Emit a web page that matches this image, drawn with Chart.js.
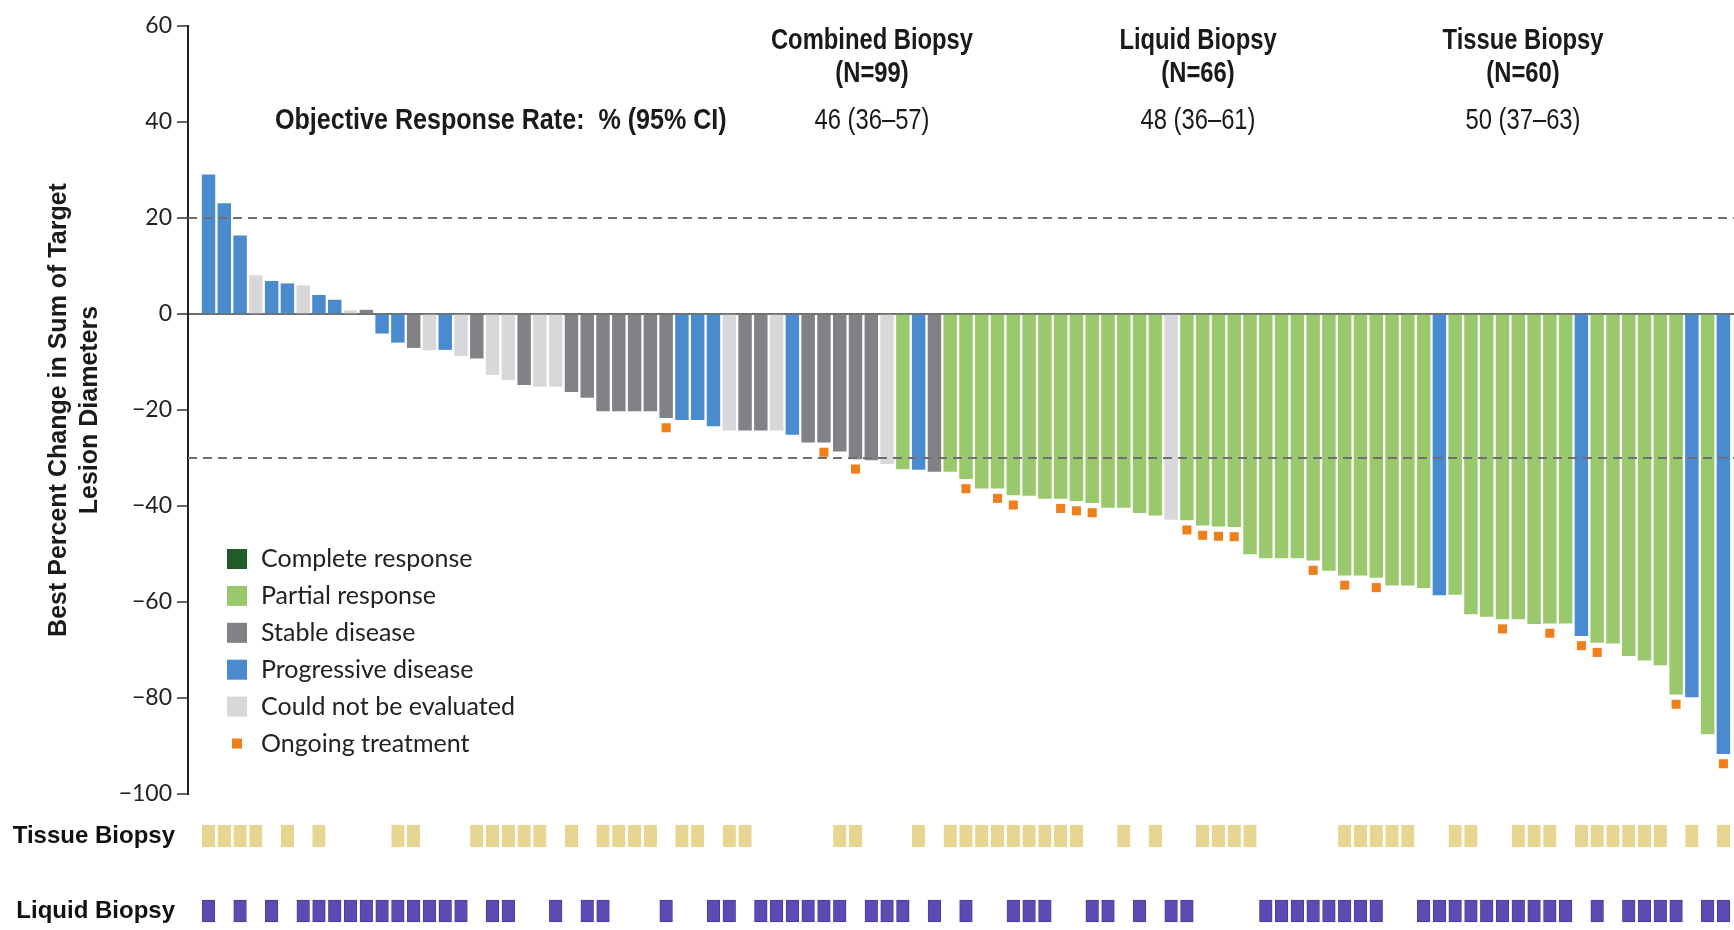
<!DOCTYPE html>
<html>
<head>
<meta charset="utf-8">
<script src="https://cdn.jsdelivr.net/npm/chart.js@4.4.1/dist/chart.umd.min.js"></script>
<style>
  html, body { margin: 0; padding: 0; background: #fff; overflow: hidden; }
  #wrap { width: 1734px; height: 930px; position: relative; }
</style>
</head>
<body>
<div id="wrap"><canvas id="waterfall"></canvas></div>
<script>
// best percent change per patient, in the order of the figure (visible bars)
const changes = [
  29, 23, 16.3, 8, 6.8, 6.3, 5.9, 3.9, 2.9, 0.7,
  0.8, -4, -5.9, -7, -7.5, -7.4, -8.7, -9.2, -12.6, -13.7,
  -14.7, -15.1, -15.1, -16.2, -17.4, -20.2, -20.2, -20.2, -20.2, -21.6,
  -22, -22, -23.3, -24.2, -24.2, -24.2, -24.2, -25.1, -26.7, -26.7,
  -28.6, -30.2, -30.4, -31.2, -32.3, -32.4, -32.8, -32.8, -34.3, -36.3,
  -36.3, -37.7, -37.8, -38.4, -38.4, -38.9, -39.3, -40.3, -40.3, -41.4,
  -41.9, -42.8, -42.9, -44, -44.2, -44.3, -50, -50.8, -50.8, -50.8,
  -51.3, -53.4, -54.4, -54.4, -54.9, -56.5, -56.5, -57, -58.5, -58.4,
  -62.5, -63, -63.5, -63.5, -64.5, -64.4, -64.4, -67, -68.4, -68.6,
  -71.2, -72.1, -73.1, -79.2, -79.8, -87.5, -91.6
];

// best response per bar
const responses = [
  'PD', 'PD', 'PD', 'NE', 'PD', 'PD', 'NE', 'PD', 'PD', 'NE',
  'SD', 'PD', 'PD', 'SD', 'NE', 'PD', 'NE', 'SD', 'NE', 'NE',
  'SD', 'NE', 'NE', 'SD', 'SD', 'SD', 'SD', 'SD', 'SD', 'SD',
  'PD', 'PD', 'PD', 'NE', 'SD', 'SD', 'NE', 'PD', 'SD', 'SD',
  'SD', 'SD', 'SD', 'NE', 'PR', 'PD', 'SD', 'PR', 'PR', 'PR',
  'PR', 'PR', 'PR', 'PR', 'PR', 'PR', 'PR', 'PR', 'PR', 'PR',
  'PR', 'NE', 'PR', 'PR', 'PR', 'PR', 'PR', 'PR', 'PR', 'PR',
  'PR', 'PR', 'PR', 'PR', 'PR', 'PR', 'PR', 'PR', 'PD', 'PR',
  'PR', 'PR', 'PR', 'PR', 'PR', 'PR', 'PR', 'PD', 'PR', 'PR',
  'PR', 'PR', 'PR', 'PR', 'PD', 'PR', 'PD'
];

// bar numbers (1-based) still on treatment
const ongoing = [30, 40, 42, 49, 51, 52, 55, 56, 57, 63, 64, 65, 66, 71, 73, 75, 83, 86, 88, 89, 94, 97];

// bar numbers with a tissue / liquid biopsy result
const tissueBiopsy = [1, 2, 3, 4, 6, 8, 13, 14, 18, 19, 20, 21, 22, 24, 26, 27, 28, 29, 31, 32, 34, 35,
  41, 42, 46, 48, 49, 50, 51, 52, 53, 54, 55, 56, 59, 61, 64, 65, 66, 67, 73, 74, 75, 76, 77,
  80, 81, 84, 85, 86, 88, 89, 90, 91, 92, 93, 95, 97];
const liquidBiopsy = [1, 3, 5, 7, 8, 9, 10, 11, 12, 13, 14, 15, 16, 17, 19, 20, 23, 25, 26, 30, 33, 34,
  36, 37, 38, 39, 40, 41, 43, 44, 45, 47, 49, 52, 53, 54, 57, 58, 60, 62, 63,
  68, 69, 70, 71, 72, 73, 74, 75, 78, 79, 80, 81, 82, 83, 84, 85, 86, 87, 89, 91, 92, 93, 94, 96, 97];

const yTicks = [60, 40, 20, 0, -20, -40, -60, -80, -100];
const refLines = [20, -30];
const rowLabels = ['Tissue Biopsy', 'Liquid Biopsy'];

const responseCodes = ['CR', 'PR', 'SD', 'PD', 'NE'];
const responseNames = ['Complete response', 'Partial response', 'Stable disease', 'Progressive disease', 'Could not be evaluated'];

const groupNames = ['Combined Biopsy', 'Liquid Biopsy', 'Tissue Biopsy'];
const groupN = [99, 66, 60];
const groupORR = ['46 (36\u201357)', '48 (36\u201361)', '50 (37\u201363)'];

const colors = {
  CR: '#1f5c27',
  PR: '#9ac86c',
  SD: '#828286',
  PD: '#4a8bcf',
  NE: '#d8d8da',
  ongoing: '#ef7f1a',
  tissue: '#e7d592',
  liquid: '#5a4cb2'
};

const SANS = '"Liberation Sans", Arial, sans-serif';
const X_MIN = -0.3;
const X_MAX = 97.67;

function fixAxisWidth(scale) {
  scale.width = 188;
  scale.paddingTop = 0;
  scale.paddingBottom = 0;
}

// narrow text: Liberation Sans squeezed like Arial Narrow
function narrowText(ctx, text, x, y, squeeze) {
  ctx.save();
  ctx.translate(x, y);
  ctx.scale(squeeze || 0.82, 1);
  ctx.fillText(text, 0, 0);
  ctx.restore();
}

const headerPlugin = {
  id: 'header',
  afterDraw(chart) {
    const ctx = chart.ctx;
    const xs = [872, 1198, 1523];
    ctx.save();
    ctx.fillStyle = '#1a1a1a';
    ctx.textBaseline = 'middle';
    ctx.textAlign = 'center';
    ctx.font = 'bold 29px ' + SANS;
    groupNames.forEach((name, i) => {
      narrowText(ctx, name, xs[i], 41);
      narrowText(ctx, '(N=' + groupN[i] + ')', xs[i], 74);
    });
    ctx.textAlign = 'left';
    narrowText(ctx, 'Objective Response Rate:  % (95% CI)', 275, 121, 0.865);
    ctx.textAlign = 'center';
    ctx.font = '29px ' + SANS;
    groupORR.forEach((txt, i) => narrowText(ctx, txt, xs[i], 121));
    ctx.restore();
  }
};

const legendPlugin = {
  id: 'responseLegend',
  afterDraw(chart) {
    const ctx = chart.ctx;
    const left = 227, top = 549, box = 20, step = 36.9;
    ctx.save();
    ctx.font = '25px Lato, "Open Sans", sans-serif';
    ctx.textBaseline = 'middle';
    ctx.textAlign = 'left';
    responseCodes.forEach((code, i) => {
      const y = top + i * step;
      ctx.fillStyle = colors[code];
      ctx.fillRect(left, y, box, box);
      ctx.fillStyle = '#222';
      ctx.fillText(responseNames[i], 261, y + box / 2);
    });
    const y = top + responseCodes.length * step;
    ctx.fillStyle = colors.ongoing;
    ctx.fillRect(left + 5, y + 5, 10, 10);
    ctx.fillStyle = '#222';
    ctx.fillText('Ongoing treatment', 261, y + box / 2);
    ctx.restore();
  }
};

function buildDatasets() {
  const bars = {
    type: 'bar',
    label: 'Best change',
    xAxisID: 'x',
    yAxisID: 'y',
    data: changes.map((v, i) => ({ x: i + 1, y: v })),
    backgroundColor: responses.map(r => colors[r]),
    barThickness: 12.8,
    grouped: false,
    borderWidth: 0,
    order: 3
  };
  const markers = {
    type: 'scatter',
    label: 'Ongoing treatment',
    xAxisID: 'x',
    yAxisID: 'y',
    data: ongoing.map(n => ({ x: n, y: changes[n - 1] - 2.1 })),
    pointStyle: 'rect',
    pointRadius: 6.4,
    pointHoverRadius: 6.4,
    backgroundColor: colors.ongoing,
    borderWidth: 0,
    order: 0
  };
  const lines = refLines.map(v => ({
    type: 'line',
    label: 'ref ' + v,
    xAxisID: 'x',
    yAxisID: 'y',
    data: [{ x: X_MIN, y: v }, { x: X_MAX, y: v }],
    borderColor: '#6f6f6f',
    borderWidth: 2,
    borderDash: [9, 6],
    pointRadius: 0,
    fill: false,
    order: 1
  }));
  const rows = [
    { list: tissueBiopsy, row: 1, color: colors.tissue, border: '#e7d592' },
    { list: liquidBiopsy, row: 2, color: colors.liquid, border: '#4a3e98' }
  ].map(r => ({
    type: 'bar',
    label: rowLabels[r.row - 1],
    indexAxis: 'y',
    xAxisID: 'xRow',
    yAxisID: 'yRow',
    data: r.list.map(n => ({ x: [n - 0.4, n + 0.4], y: r.row })),
    backgroundColor: r.color,
    borderColor: r.border,
    borderWidth: 1,
    borderSkipped: false,
    barThickness: 22,
    grouped: false,
    order: 2
  }));
  return [bars, markers, ...lines, ...rows];
}

const ctx = document.getElementById('waterfall');
new Chart(ctx, {
  type: 'bar',
  data: { datasets: buildDatasets() },
  plugins: [headerPlugin, legendPlugin],
  options: {
    responsive: true,
    maintainAspectRatio: false,
    animation: false,
    layout: { autoPadding: false, padding: { top: 26, right: 0, bottom: 0, left: 0 } },
    plugins: {
      legend: { display: false },
      tooltip: { enabled: false }
    },
    scales: {
      x: { type: 'linear', min: X_MIN, max: X_MAX, offset: false, display: false },
      xRow: { type: 'linear', min: X_MIN, max: X_MAX, offset: false, display: false, position: 'bottom' },
      y: {
        type: 'linear',
        position: 'left',
        stack: 'left',
        stackWeight: 768,
        weight: 2,
        offset: false,
        min: -100,
        max: 60,
        afterBuildTicks: s => { s.ticks = yTicks.map(v => ({ value: v })); },
        afterFit: fixAxisWidth,
        ticks: {
          color: '#222',
          padding: 5,
          autoSkip: false,
          font: { family: 'Lato', size: 23 },
          callback: v => (v < 0 ? '\u2212' + (-v) : String(v))
        },
        grid: {
          color: c => (c.tick && c.tick.value === 0 ? '#707070' : 'rgba(0,0,0,0)'),
          lineWidth: 2,
          tickColor: '#333',
          tickLength: 11,
          tickWidth: 1.5
        },
        border: { display: true, color: '#222', width: 2 },
        title: {
          display: true,
          text: ['Best Percent Change in Sum of Target', 'Lesion Diameters'],
          color: '#1a1a1a',
          font: { family: SANS, size: 25, weight: 'bold', lineHeight: 1.24 },
          padding: { top: 44, bottom: 0 }
        }
      },
      yRow: {
        type: 'linear',
        position: 'left',
        stack: 'left',
        stackWeight: 136,
        weight: 1,
        offset: false,
        reverse: true,
        min: 0.44,
        max: 2.253,
        afterBuildTicks: s => { s.ticks = rowLabels.map((_, i) => ({ value: i + 1 })); },
        afterFit: fixAxisWidth,
        ticks: {
          color: '#111',
          padding: 13,
          autoSkip: false,
          font: { family: SANS, size: 24, weight: 'bold' },
          callback: v => rowLabels[v - 1]
        },
        grid: { display: false, drawTicks: false },
        border: { display: false }
      }
    }
  }
});
</script>
</body>
</html>
